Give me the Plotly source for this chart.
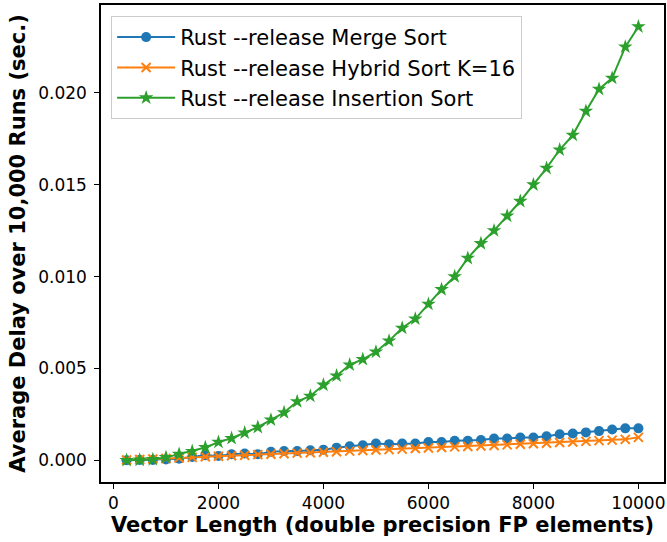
import plotly.graph_objects as go

vector_length = [250, 500, 750, 1000, 1250, 1500, 1750, 2000, 2250, 2500,
                 2750, 3000, 3250, 3500, 3750, 4000, 4250, 4500, 4750, 5000,
                 5250, 5500, 5750, 6000, 6250, 6500, 6750, 7000, 7250, 7500,
                 7750, 8000, 8250, 8500, 8750, 9000, 9250, 9500, 9750, 10000]

merge_sort = [0.00000, 0.00002, 0.00002, 0.00004, 0.00009, 0.00018, 0.00027, 0.00024, 0.00033, 0.00037,
              0.00033, 0.00046, 0.00051, 0.00051, 0.00055, 0.00058, 0.00069, 0.00077, 0.00082, 0.00091,
              0.00088, 0.00091, 0.00091, 0.00100, 0.00100, 0.00106, 0.00106, 0.00110, 0.00119, 0.00119,
              0.00124, 0.00124, 0.00131, 0.00142, 0.00146, 0.00152, 0.00159, 0.00168, 0.00174, 0.00174]

hybrid_sort = [0.00002, 0.00004, 0.00007, 0.00010, 0.00013, 0.00016, 0.00019, 0.00022, 0.00025, 0.00028,
               0.00031, 0.00033, 0.00036, 0.00039, 0.00041, 0.00044, 0.00047, 0.00050, 0.00053, 0.00056,
               0.00058, 0.00061, 0.00064, 0.00067, 0.00070, 0.00073, 0.00075, 0.00078, 0.00081, 0.00084,
               0.00087, 0.00090, 0.00093, 0.00097, 0.00100, 0.00103, 0.00107, 0.00110, 0.00114, 0.00125]

insertion_sort = [0.00000, 0.00002, 0.00005, 0.00016, 0.00033, 0.00049, 0.00070, 0.00099, 0.00120, 0.00150,
                  0.00180, 0.00220, 0.00260, 0.00320, 0.00350, 0.00410, 0.00460, 0.00520, 0.00550, 0.00590,
                  0.00650, 0.00720, 0.00770, 0.00850, 0.00930, 0.01000, 0.01100, 0.01180, 0.01250, 0.01330,
                  0.01410, 0.01500, 0.01590, 0.01690, 0.01770, 0.01900, 0.02020, 0.02080, 0.02250, 0.02360]

series_names = ["Rust --release Merge Sort",
                "Rust --release Hybrid Sort K=16",
                "Rust --release Insertion Sort"]
colors = ["#1f77b4", "#ff7f0e", "#2ca02c"]

fig = go.Figure()
fig.add_trace(go.Scatter(x=vector_length, y=merge_sort, mode="lines+markers",
                         name=series_names[0], legendgroup="a",
                         line=dict(color=colors[0], width=2),
                         marker=dict(symbol="circle", size=10, color=colors[0])))
fig.add_trace(go.Scatter(x=vector_length, y=hybrid_sort, mode="lines+markers",
                         name=series_names[1], legendgroup="b",
                         line=dict(color=colors[1], width=2),
                         marker=dict(symbol="x-thin", size=9, color=colors[1],
                                     line=dict(color=colors[1], width=2))))
fig.add_trace(go.Scatter(x=vector_length, y=insertion_sort, mode="lines+markers",
                         name=series_names[2], legendgroup="c",
                         line=dict(color=colors[2], width=2),
                         marker=dict(symbol="star", size=11, color=colors[2])))

axis_common = dict(showgrid=False, zeroline=False, showline=True, mirror=True,
                   linecolor="black", linewidth=1.5, ticks="outside", ticklen=5,
                   tickwidth=1.2, tickcolor="black", automargin=False,
                   tickfont=dict(family="DejaVu Sans", size=17, color="black"))

fig.update_layout(
    width=667, height=542,
    margin=dict(l=101, r=3, t=5, b=60),
    paper_bgcolor="white", plot_bgcolor="white",
    xaxis=dict(range=[-237.5, 10487.5], tick0=0, dtick=2000, tickformat="d",
               title=dict(text="<b>Vector Length (double precision FP elements)</b>",
                          font=dict(family="DejaVu Sans", size=21, color="black"),
                          standoff=5),
               **axis_common),
    yaxis=dict(range=[-0.00118, 0.02478], tick0=0, dtick=0.005, tickformat=".3f",
               ticklabelstandoff=4,
               title=dict(text="<b>Average Delay over 10,000 Runs (sec.)</b>",
                          font=dict(family="DejaVu Sans", size=21, color="black"),
                          standoff=7),
               **axis_common),
    legend=dict(x=0.018, y=0.977, xanchor="left", yanchor="top",
                bgcolor="rgba(255,255,255,0.8)", bordercolor="#cccccc", borderwidth=1,
                font=dict(family="DejaVu Sans", size=21, color="black"),
                tracegroupgap=0, itemwidth=58),
    showlegend=True,
)

fig.write_html("out.html", config={"displayModeBar": False},
               post_script="document.body.style.margin='0';document.body.style.overflow='hidden';")
